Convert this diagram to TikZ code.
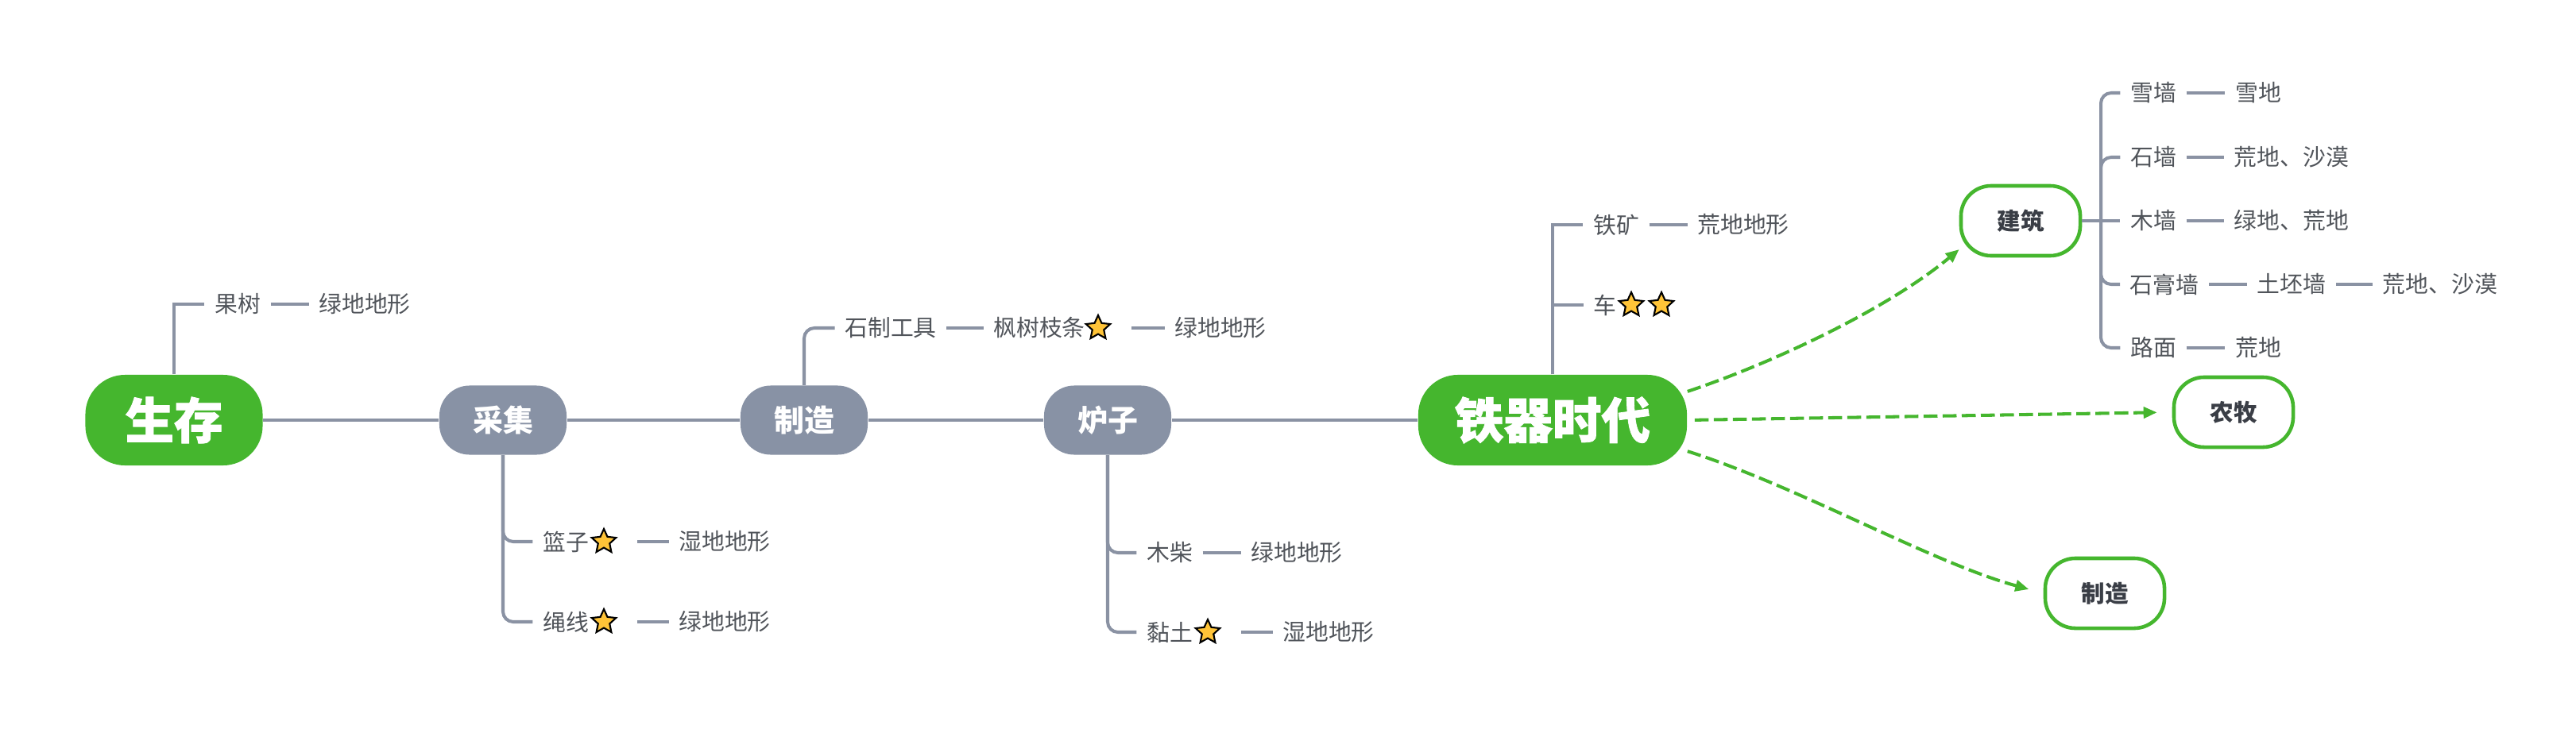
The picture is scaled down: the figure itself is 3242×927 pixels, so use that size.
\documentclass[tikz,border=0pt]{standalone}
\usepackage{fontspec}
\setmainfont{Noto Sans CJK SC}
\newfontfamily\heavycjk{Noto Sans CJK SC}[BoldFeatures={FakeBold=1.3}]
\usepackage{tikz}
\usetikzlibrary{positioning, arrows.meta, shapes.geometric}
\usepackage{xcolor}
\definecolor{topicgreen}{RGB}{69, 182, 46}
\definecolor{topicgray}{RGB}{136, 146, 165}
\definecolor{linegray}{RGB}{138, 146, 163}
\definecolor{leafgray}{RGB}{80, 84, 90}
\definecolor{titlegray}{RGB}{58, 62, 70}
\definecolor{stargold}{RGB}{255, 196, 56}

\begin{document}
\begin{tikzpicture}[x=0.01cm, y=-0.01cm, >={Triangle[length=0.17cm, width=0.14cm]},
    bigtopic/.style={rectangle, rounded corners=0.5cm, fill=topicgreen, text=white, font=\fontsize{17.5}{20}\heavycjk\bfseries, minimum height=1.14cm, inner sep=0pt},
    midtopic/.style={rectangle, rounded corners=0.38cm, fill=topicgray, text=white, font=\fontsize{10.8}{13}\selectfont\bfseries, minimum width=1.6cm, minimum height=0.87cm, inner sep=0pt},
    linktopic/.style={rectangle, rounded corners=0.38cm, draw=topicgreen, line width=1.3pt, fill=white, text=titlegray, font=\fontsize{8.4}{10}\selectfont\bfseries, minimum width=1.5cm, minimum height=0.88cm, inner sep=0pt},
    leaf/.style={text=leafgray, font=\fontsize{8.2}{10}\selectfont, inner xsep=0.12cm, inner ysep=0.05cm},
    goldstar/.style={star, star points=5, star point ratio=2.1, fill=stargold, draw=black, line width=0.6pt, minimum size=0.32cm, inner sep=0pt, outer sep=0.22cm},
    conn/.style={draw=linegray, line width=1.15pt},
    branch/.style={conn, rounded corners=0.13cm},
    jump/.style={->, draw=topicgreen, line width=1.15pt, dash pattern=on 0.175cm off 0.065cm}]
    \useasboundingbox (0,0) rectangle (3242,927);

    % 主干
    \node[bigtopic, minimum width=2.23cm] (shengcun) at (219,529) {生存};
    \node[midtopic] (caiji) at (633,529) {采集};
    \node[midtopic] (zhizao) at (1012,529) {制造};
    \node[midtopic] (luzi) at (1394,529) {炉子};
    \node[bigtopic, minimum width=3.38cm] (tieqi) at (1954,529) {铁器时代};
    \draw[conn] (shengcun) -- (caiji) -- (zhizao) -- (luzi) -- (tieqi);

    % 生存
    \node[leaf] (guoshu) at (299,383) {果树};
    \node[leaf] (guoshuT) at (459,383) {绿地地形};
    \draw[conn] (shengcun.north) |- (guoshu.west);
    \draw[conn] (guoshu) -- (guoshuT);

    % 采集
    \node[leaf] (lanzi) at (712,682) {篮子};
    \node[goldstar] (lanziS) at (760,682) {};
    \node[leaf] (lanziT) at (912,682) {湿地地形};
    \node[leaf] (shengxian) at (712,783) {绳线};
    \node[goldstar] (shengxianS) at (760,783) {};
    \node[leaf] (shengxianT) at (912,783) {绿地地形};
    \draw[branch] (caiji.south) |- (lanzi.west);
    \draw[branch] (caiji.south) |- (shengxian.west);
    \draw[conn] (lanziS) -- (lanziT);
    \draw[conn] (shengxianS) -- (shengxianT);

    % 制造
    \node[leaf] (shizhi) at (1121,413) {石制工具};
    \node[leaf] (fengshu) at (1308,413) {枫树枝条};
    \node[goldstar] (fengshuS) at (1382,413) {};
    \node[leaf] (fengshuT) at (1536,413) {绿地地形};
    \draw[branch] (zhizao.north) |- (shizhi.west);
    \draw[conn] (shizhi) -- (fengshu);
    \draw[conn] (fengshuS) -- (fengshuT);

    % 炉子
    \node[leaf] (muchai) at (1472,696) {木柴};
    \node[leaf] (muchaiT) at (1632,696) {绿地地形};
    \node[leaf] (niantu) at (1472,796) {黏土};
    \node[goldstar] (niantuS) at (1520,796) {};
    \node[leaf] (niantuT) at (1672,796) {湿地地形};
    \draw[branch] (luzi.south) |- (muchai.west);
    \draw[branch] (luzi.south) |- (niantu.west);
    \draw[conn] (muchai) -- (muchaiT);
    \draw[conn] (niantuS) -- (niantuT);

    % 铁器时代
    \node[leaf] (tiekuang) at (2034,283) {铁矿};
    \node[leaf] (tiekuangT) at (2194,283) {荒地地形};
    \node[leaf] (che) at (2020,384) {车};
    \node[goldstar] (cheS) at (2053,384) {};
    \node[goldstar] (cheSS) at (2091,384) {};
    \draw[conn] (tieqi.north) |- (tiekuang.west);
    \draw[conn] (tieqi.north) |- (che.west);
    \draw[conn] (tiekuang) -- (tiekuangT);

    % 关联主题
    \node[linktopic] (jianzhu) at (2543,278) {建筑};
    \node[linktopic] (nongmu) at (2811,519) {农牧};
    \node[linktopic] (zhizaoB) at (2649,747) {制造};
    \draw[jump] (tieqi.12) .. controls (2234,456) and (2377,388) .. (jianzhu.205);
    \draw[jump, shorten <=0.09cm, shorten >=0.19cm] (tieqi.east) -- (nongmu.west);
    \draw[jump, shorten >=0.19cm] (tieqi.-13) .. controls (2260,611) and (2430,708) .. (zhizaoB.west);

    % 建筑
    \coordinate (jzspine) at (2644,278);
    \node[leaf] (xueqiang) at (2710,117) {雪墙};
    \node[leaf] (xueqiangT) at (2842,117) {雪地};
    \node[leaf] (shiqiang) at (2710,198) {石墙};
    \node[leaf] (shiqiangT) at (2884,198) {荒地、沙漠};
    \node[leaf] (muqiang) at (2710,278) {木墙};
    \node[leaf] (muqiangT) at (2884,278) {绿地、荒地};
    \node[leaf] (shigao) at (2724,358) {石膏墙};
    \node[leaf] (tupi) at (2884,358) {土坯墙};
    \node[leaf] (tupiT) at (3071,358) {荒地、沙漠};
    \node[leaf] (lumian) at (2710,438) {路面};
    \node[leaf] (lumianT) at (2842,438) {荒地};
    \draw[conn] (jianzhu) -- (muqiang);
    \draw[branch] (jzspine) |- (xueqiang.west);
    \draw[branch] (jzspine) |- (shiqiang.west);
    \draw[branch] (jzspine) |- (shigao.west);
    \draw[branch] (jzspine) |- (lumian.west);
    \draw[conn] (xueqiang) -- (xueqiangT);
    \draw[conn] (shiqiang) -- (shiqiangT);
    \draw[conn] (muqiang) -- (muqiangT);
    \draw[conn] (shigao) -- (tupi);
    \draw[conn] (tupi) -- (tupiT);
    \draw[conn] (lumian) -- (lumianT);
\end{tikzpicture}
\end{document}
